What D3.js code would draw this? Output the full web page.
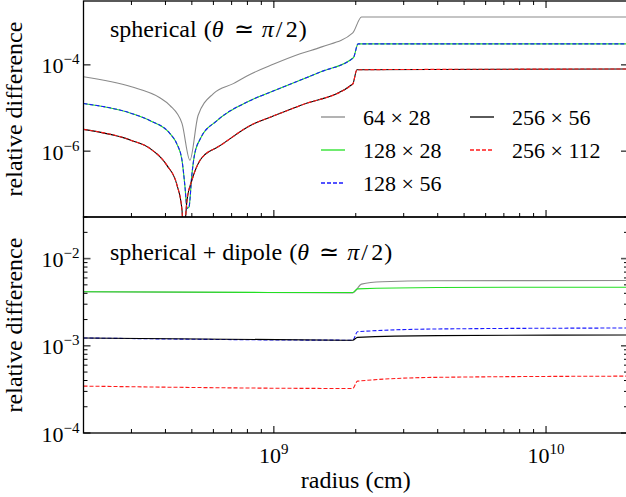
<!DOCTYPE html>
<html>
<head>
<meta charset="utf-8">
<script src="https://cdn.jsdelivr.net/npm/d3@7"></script>
<style>
  body { margin: 0; background: #fff; }
  svg { display: block; }
  text { font-family: 'Liberation Serif', 'Times New Roman', serif; fill: #000; }
</style>
</head>
<body>
<svg id="chart" width="626" height="497"></svg>
<script>
'use strict';

/* global d3:false */

// legend labels, in plotting order
var seriesNames = ['64 \u00d7 28', '128 \u00d7 28', '128 \u00d7 56', '256 \u00d7 56', '256 \u00d7 112'];

// axis ranges and labelled ticks
var radiusDomain = [2e8, 2e10];
var sphDomain = [3e-8, 3e-3];
var dipDomain = [1e-4, 3e-2];
var sphTickValues = [1e-4, 1e-6];
var sphTickExps = ['\u22124', '\u22126'];
var dipTickValues = [1e-2, 1e-3, 1e-4];
var dipTickExps = ['\u22122', '\u22123', '\u22124'];
var radiusTickValues = [1e9, 1e10];
var radiusTickExps = ['9', '10'];

// top panel: spherical
var sphR64 = [2e8, 3e8, 3.8e8, 4.15e8, 4.6e8, 4.92e8, 5.27e8, 6e8, 7.1e8, 8e8, 1e9, 1.25e9, 1.5e9, 1.95e9, 2.1e9, 2e10];
var sph64x28 = [5.3e-5, 3.1e-5, 1.75e-5, 1.15e-5, 4.4e-6, 6.2e-7, 6.7e-6, 2.16e-5, 3.67e-5, 5.6e-5, 1.04e-4, 1.8e-4, 2.6e-4, 5.5e-4, 1.28e-3, 1.28e-3];

var sphR128 = [2e8, 3e8, 3.5e8, 4.15e8, 4.4e8, 4.6e8, 4.72e8, 4.8e8, 4.88e8, 5e8, 5.1e8, 5.36e8, 6.2e8, 8.2e8, 1e9, 1.49e9, 1.96e9, 2.04e9, 2e10];
var sph128x28 = [1.27e-5, 7.5e-6, 5.15e-6, 2.59e-6, 1.5e-6, 6.2e-7, 1.47e-7, 4.8e-8, 5.1e-8, 2.8e-7, 7.5e-7, 1.9e-6, 5.15e-6, 1.49e-5, 2.5e-5, 6.9e-5, 1.46e-4, 3.06e-4, 3.06e-4];
var sph128x56 = [1.27e-5, 7.5e-6, 5.15e-6, 2.59e-6, 1.5e-6, 6.2e-7, 1.47e-7, 4.8e-8, 5.1e-8, 2.8e-7, 7.5e-7, 1.9e-6, 5.15e-6, 1.49e-5, 2.5e-5, 6.9e-5, 1.46e-4, 3.06e-4, 3.06e-4];

var sphR256 = [2e8, 3e8, 3.5e8, 4.05e8, 4.41e8, 4.6e8, 4.66e8, 4.8e8, 5e8, 5.36e8, 5.6e8, 6.2e8, 8.2e8, 1e9, 1.25e9, 1.95e9, 2.02e9, 2e10];
var sph256x56 = [3.2e-6, 1.78e-6, 1.17e-6, 4.7e-7, 1.64e-7, 4.4e-8, 1e-8, 7.4e-8, 2.1e-7, 6.2e-7, 8.5e-7, 1.23e-6, 3.95e-6, 6.6e-6, 1.14e-5, 3.6e-5, 7.7e-5, 8.0e-5];
var sph256x112 = [3.2e-6, 1.78e-6, 1.17e-6, 4.7e-7, 1.64e-7, 4.4e-8, 1e-8, 7.4e-8, 2.1e-7, 6.2e-7, 8.5e-7, 1.23e-6, 3.95e-6, 6.6e-6, 1.14e-5, 3.6e-5, 7.7e-5, 8.0e-5];

// bottom panel: spherical + dipole
var dipR64 = [2e8, 1.95e9, 2.1e9, 2.5e9, 3.9e9, 2e10];
var dip64x28 = [4.17e-3, 4.05e-3, 5.1e-3, 5.42e-3, 5.57e-3, 5.6e-3];
var dipR = [2e8, 1.95e9, 2.03e9, 4e9, 2e10];
var dip128x28 = [4.17e-3, 4.08e-3, 4.5e-3, 4.67e-3, 4.7e-3];
var dip128x56 = [1.23e-3, 1.16e-3, 1.45e-3, 1.56e-3, 1.6e-3];
var dip256x56 = [1.23e-3, 1.16e-3, 1.25e-3, 1.31e-3, 1.33e-3];
var dip256x112 = [3.45e-4, 3.24e-4, 3.93e-4, 4.35e-4, 4.49e-4];

var seriesStyles = [
    {color: '#8a8a8a', dash: null},
    {color: '#22e022', dash: null},
    {color: '#1a1aff', dash: '4,2'},
    {color: '#000000', dash: null},
    {color: '#ff1a1a', dash: '4,2'}
];

var svg = d3.select('#chart'),
    left = 83.5,
    right = 628,
    panels = [
        {top: 1, bottom: 217, domain: sphDomain, title: 'spherical',
            radii: [sphR64, sphR128, sphR128, sphR256, sphR256],
            values: [sph64x28, sph128x28, sph128x56, sph256x56, sph256x112],
            tickValues: sphTickValues, tickExps: sphTickExps, minor: false,
            titleY: 37, topTicks: true},
        {top: 217, bottom: 433, domain: dipDomain, title: 'spherical + dipole',
            radii: [dipR64, dipR, dipR, dipR, dipR],
            values: [dip64x28, dip128x28, dip128x56, dip256x56, dip256x112],
            tickValues: dipTickValues, tickExps: dipTickExps, minor: true,
            titleY: 260, topTicks: false}
    ];

var x = d3.scaleLog().domain(radiusDomain).range([left, right]);

function isDecade(v) {
    var l = Math.log10(v);
    return Math.abs(l - Math.round(l)) < 1e-9;
}

var minorX = x.ticks().filter(function(v) { return !isDecade(v); });

function addPower(sel, exp) {
    sel.append('tspan').text('10');
    sel.append('tspan')
        .attr('dy', -9)
        .attr('font-size', 15)
        .text(exp);
}

// mathtext-like "(θ ≃ π/2)", glyphs placed after the plain part
function addMathSuffix(g, x0, y0) {
    var parts = [
        {dx: 0, t: '(', size: 24},
        {dx: 8, t: '\u03b8', size: 24, italic: true},
        {dx: 30, t: '\u2243', size: 24, family: 'DejaVu Serif'},
        {dx: 58, t: '\u03c0', size: 24, italic: true},
        {dx: 72, t: '/', size: 24},
        {dx: 82, t: '2', size: 24},
        {dx: 95, t: ')', size: 24}
    ];
    parts.forEach(function(p) {
        var ts = g.append('text')
            .attr('x', x0 + p.dx)
            .attr('y', y0)
            .attr('font-size', p.size)
            .text(p.t);
        if(p.italic) ts.attr('font-style', 'italic');
        if(p.family) ts.attr('font-family', p.family);
    });
}

panels.forEach(function(p, pi) {
    var y = d3.scaleLog().domain(p.domain).range([p.bottom, p.top]);
    var g = svg.append('g').attr('class', 'panel');
    var clipId = 'clip' + pi;

    svg.append('clipPath').attr('id', clipId)
        .append('rect')
            .attr('x', left).attr('y', p.top)
            .attr('width', right - left).attr('height', p.bottom - p.top);

    // curves
    var line = d3.line()
        .curve(d3.curveMonotoneX)
        .x(function(d) { return x(d[0]); })
        .y(function(d) { return y(d[1]); });

    var lines = g.append('g').attr('clip-path', 'url(#' + clipId + ')');
    p.values.forEach(function(vals, si) {
        var pts = vals.map(function(v, i) { return [p.radii[si][i], v]; });
        var st = seriesStyles[si];
        lines.append('path')
            .datum(pts)
            .attr('d', line)
            .attr('fill', 'none')
            .attr('stroke', st.color)
            .attr('stroke-width', 1.1)
            .attr('stroke-dasharray', st.dash);
    });

    // x ticks (inward)
    var edges = [{pos: p.bottom, dir: -1}];
    if(p.topTicks) edges.push({pos: p.top, dir: 1});
    edges.forEach(function(e) {
        var ax = g.append('g').attr('stroke', '#000');
        ax.selectAll('line.minor')
            .data(minorX)
            .enter().append('line')
                .attr('x1', function(d) { return x(d); })
                .attr('x2', function(d) { return x(d); })
                .attr('y1', e.pos)
                .attr('y2', e.pos + e.dir * 4)
                .attr('stroke-width', 1);
        ax.selectAll('line.major')
            .data(radiusTickValues)
            .enter().append('line')
                .attr('x1', function(d) { return x(d); })
                .attr('x2', function(d) { return x(d); })
                .attr('y1', e.pos)
                .attr('y2', e.pos + e.dir * 7)
                .attr('stroke', '#555')
                .attr('stroke-width', 1.6);
    });

    // y ticks on both sides
    var minorY = p.minor ? y.ticks().filter(function(v) { return !isDecade(v); }) : [];
    [{pos: left, dir: 1}, {pos: right, dir: -1}].forEach(function(e) {
        var ay = g.append('g').attr('stroke', '#000');
        ay.selectAll('line.minor')
            .data(minorY)
            .enter().append('line')
                .attr('y1', function(d) { return y(d); })
                .attr('y2', function(d) { return y(d); })
                .attr('x1', e.pos)
                .attr('x2', e.pos + e.dir * 4)
                .attr('stroke-width', 1);
        ay.selectAll('line.major')
            .data(p.tickValues)
            .enter().append('line')
                .attr('y1', function(d) { return y(d); })
                .attr('y2', function(d) { return y(d); })
                .attr('x1', e.pos)
                .attr('x2', e.pos + e.dir * 7)
                .attr('stroke', '#555')
                .attr('stroke-width', 1.6);
    });

    // y tick labels
    p.tickValues.forEach(function(v, i) {
        var t = g.append('text')
            .attr('x', left - 4)
            .attr('y', y(v) + 8.5)
            .attr('text-anchor', 'end')
            .attr('font-size', 22);
        addPower(t, p.tickExps[i]);
    });

    // frame
    g.append('rect')
        .attr('x', left).attr('y', p.top)
        .attr('width', right - left).attr('height', p.bottom - p.top)
        .attr('fill', 'none')
        .attr('stroke', '#000')
        .attr('stroke-width', 1.3);

    // panel title
    var title = g.append('text')
        .attr('x', 110)
        .attr('y', p.titleY)
        .attr('font-size', 24)
        .text(p.title);
    var plainWidth = title.node().getComputedTextLength();
    addMathSuffix(g, 110 + plainWidth + 7, p.titleY);

    // y axis label
    g.append('text')
        .attr('transform', 'translate(22,' + ((p.top + p.bottom) / 2) + ') rotate(-90)')
        .attr('text-anchor', 'middle')
        .attr('font-size', 24)
        .text('relative difference');
});

// x tick labels and axis label
radiusTickValues.forEach(function(v, i) {
    var t = svg.append('text')
        .attr('x', x(v))
        .attr('y', 463)
        .attr('text-anchor', 'middle')
        .attr('font-size', 22);
    addPower(t, radiusTickExps[i]);
});

svg.append('text')
    .attr('x', (left + right) / 2)
    .attr('y', 488)
    .attr('text-anchor', 'middle')
    .attr('font-size', 24)
    .text('radius (cm)');

// legend, two columns
var legendCols = [{lx: 321, tx: 363}, {lx: 470, tx: 512}],
    legendRows = [117, 150, 183];

var legend = svg.append('g').attr('class', 'legend');
seriesNames.forEach(function(name, i) {
    var col = legendCols[i < 3 ? 0 : 1],
        ry = legendRows[i < 3 ? i : i - 3],
        st = seriesStyles[i];

    legend.append('line')
        .attr('x1', col.lx).attr('x2', col.lx + 24)
        .attr('y1', ry).attr('y2', ry)
        .attr('stroke', st.color)
        .attr('stroke-width', 1.3)
        .attr('stroke-dasharray', st.dash);
    legend.append('text')
        .attr('x', col.tx)
        .attr('y', ry + 8)
        .attr('font-size', 22)
        .text(name);
});
</script>
</body>
</html>
